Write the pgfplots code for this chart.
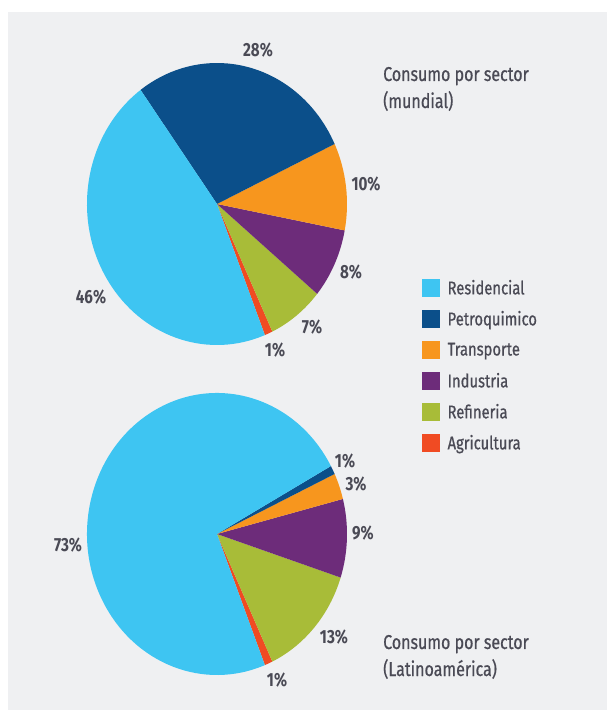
\documentclass[border=0pt]{standalone}
\usepackage{pgfplots}
\usepackage{pgfplotstable}
\pgfplotsset{compat=1.18}
\usepackage{fontspec}
\setmainfont{Fira Sans}[FakeStretch=0.8]
\newfontfamily\medfont{Fira Sans}[FakeStretch=0.8, FakeBold=0.7]
\definecolor{cres}{HTML}{3EC5F2}
\definecolor{cpet}{HTML}{0B4F8A}
\definecolor{ctra}{HTML}{F7961E}
\definecolor{cind}{HTML}{6D2C7A}
\definecolor{cref}{HTML}{A8BC38}
\definecolor{cagr}{HTML}{F04B23}
\definecolor{bg}{HTML}{EFF0F2}
\definecolor{txt}{HTML}{4A4A55}

% counter-clockwise order, starting at -68.4 degrees
\pgfplotstableread{
sector value color
Agricultura 1 cagr
Refineria 7 cref
Industria 8 cind
Transporte 10 ctra
Petroquimico 28 cpet
Residencial 46 cres
}\mundial
\pgfplotstableread{
sector value color
Agricultura 1 cagr
Refineria 13 cref
Industria 9 cind
Transporte 3 ctra
Petroquimico 1 cpet
Residencial 73 cres
}\latam

\newcommand{\pieslices}[3]{%
  \pgfplotstablegetrowsof{#1}%
  \pgfmathtruncatemacro\nrows{\pgfplotsretval-1}%
  \def\cum{-68.4}%
  \pgfplotsforeachungrouped \i in {0,...,\nrows}{%
    \pgfplotstablegetelem{\i}{value}\of{#1}\let\v\pgfplotsretval
    \pgfplotstablegetelem{\i}{color}\of{#1}\let\c\pgfplotsretval
    \pgfmathsetmacro\a{\cum}%
    \pgfmathsetmacro\b{\cum+3.6*\v}%
    \edef\temp{\noexpand\fill[\c] (axis cs:#2,#3) -- ++(\a:130pt and 141pt) arc[start angle=\a, end angle=\b, x radius=130pt, y radius=141pt] -- cycle;}%
    \temp
    \global\let\cum\b
  }%
}

\begin{document}
\begin{tikzpicture}
\begin{axis}[
  x=1pt, y=1pt, xmin=0, xmax=607, ymin=0, ymax=710,
  hide axis, clip=false,
  legend style={at={(axis cs:422,431)}, anchor=north west, draw=none, fill=none,
    inner sep=0pt, row sep=13.6pt, font=\medfont\fontsize{18.5}{20}\selectfont\color{txt},
    nodes={inner sep=0pt, anchor=west}},
  legend cell align=left,
  every axis legend/.append style={/tikz/every odd column/.append style={column sep=8pt}},
]
\fill[white] (axis cs:0,0) rectangle (axis cs:607,710);
\fill[bg] (axis cs:8,0) rectangle (axis cs:607,698);

\pieslices{\mundial}{217}{506}
\pieslices{\latam}{217}{176}

\addlegendimage{legend image code/.code={\fill[cres] (0pt,-8.5pt) rectangle (17pt,8.5pt);}}
\addlegendentry{Residencial}
\addlegendimage{legend image code/.code={\fill[cpet] (0pt,-8.5pt) rectangle (17pt,8.5pt);}}
\addlegendentry{Petroquimico}
\addlegendimage{legend image code/.code={\fill[ctra] (0pt,-8.5pt) rectangle (17pt,8.5pt);}}
\addlegendentry{Transporte}
\addlegendimage{legend image code/.code={\fill[cind] (0pt,-8.5pt) rectangle (17pt,8.5pt);}}
\addlegendentry{Industria}
\addlegendimage{legend image code/.code={\fill[cref] (0pt,-8.5pt) rectangle (17pt,8.5pt);}}
\addlegendentry{Refineria}
\addlegendimage{legend image code/.code={\fill[cagr] (0pt,-8.5pt) rectangle (17pt,8.5pt);}}
\addlegendentry{Agricultura}

\begin{scope}[every node/.style={font=\fontsize{19}{22}\selectfont\bfseries, text=txt}]
\node at (axis cs:258,660) {28\%};
\node at (axis cs:366,526) {10\%};
\node at (axis cs:351,438) {8\%};
\node at (axis cs:312,383) {7\%};
\node at (axis cs:275,360) {1\%};
\node at (axis cs:91,413) {46\%};
\node at (axis cs:345,249) {1\%};
\node at (axis cs:356,226) {3\%};
\node at (axis cs:363,177) {9\%};
\node at (axis cs:334,73) {13\%};
\node at (axis cs:277,30) {1\%};
\node at (axis cs:68,165) {73\%};
\end{scope}

\begin{scope}[every node/.style={font=\medfont\fontsize{20}{24}\selectfont, text=txt, anchor=base west, inner sep=0pt}]
\node at (axis cs:383,629) {Consumo por sector};
\node at (axis cs:383,602) {(mundial)};
\node at (axis cs:383,61) {Consumo por sector};
\node at (axis cs:383,34) {(Latinoamérica)};
\end{scope}
\end{axis}
\end{tikzpicture}
\end{document}
